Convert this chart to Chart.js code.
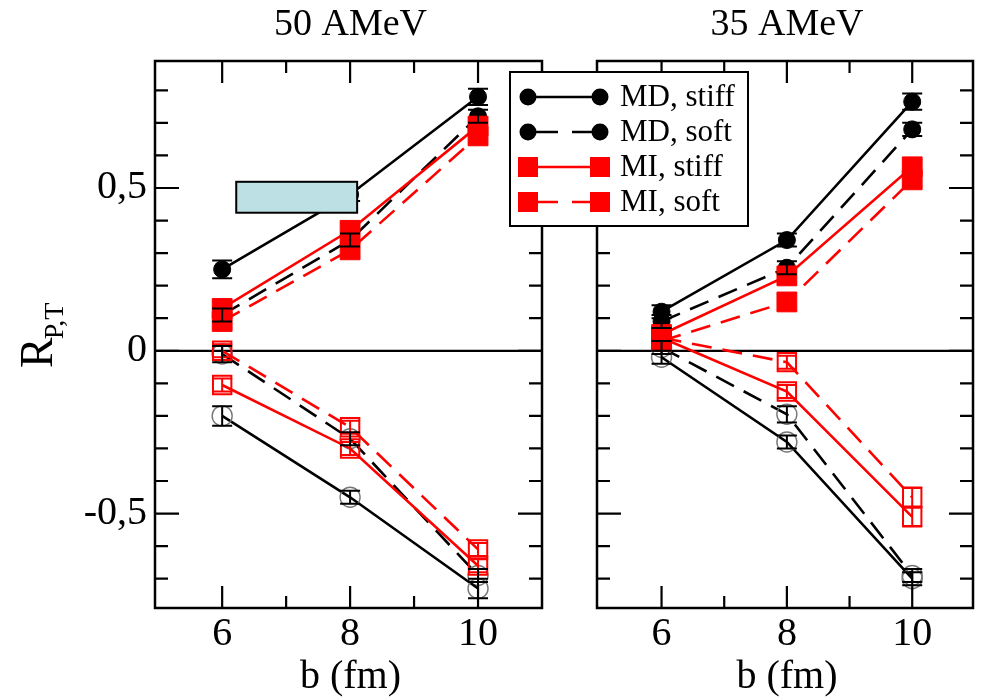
<!DOCTYPE html>
<html><head><meta charset="utf-8">
<script src="https://cdn.jsdelivr.net/npm/chart.js@4.4.0/dist/chart.umd.min.js"></script>
<style>
html,body{margin:0;padding:0;background:#fff;}
#wrap{position:relative;width:988px;height:700px;overflow:hidden;}
#c1{position:absolute;left:0;top:0;}
#c2{position:absolute;left:490px;top:0;}
</style></head><body>
<div id="wrap">
<canvas id="c1" width="570" height="700"></canvas>
<canvas id="c2" width="498" height="700"></canvas>
</div>
<script>
// ---------- data ----------
const B = [6, 8, 10];
const X_TICKS = [6, 8, 10];
const X_MINOR = [7, 9];
const Y_TICKS = [-0.5, 0, 0.5];
const Y_MINOR = [-0.7, -0.6, -0.4, -0.3, -0.2, -0.1, 0.1, 0.2, 0.3, 0.4, 0.6, 0.7, 0.8];
const TITLES = ['50 AMeV', '35 AMeV'];
const X_TITLE = 'b (fm)';
const LEGEND_LABELS = ['MD, stiff', 'MD, soft', 'MI, stiff', 'MI, soft'];

// 50 AMeV (left panel)
const L_MD_STIFF_POS = [0.25, 0.48, 0.78];
const L_MD_SOFT_POS  = [0.11, 0.34, 0.72];
const L_MI_STIFF_POS = [0.13, 0.37, 0.69];
const L_MI_SOFT_POS  = [0.09, 0.31, 0.66];
const L_MD_STIFF_NEG = [-0.20, -0.45, -0.73];
const L_MD_SOFT_NEG  = [-0.01, -0.27, -0.69];
const L_MI_STIFF_NEG = [-0.105, -0.30, -0.66];
const L_MI_SOFT_NEG  = [0.00, -0.235, -0.61];
const L_ERR_MD_STIFF_POS = [0.027, 0.02, 0.025];
const L_ERR_MD_SOFT_POS  = [0.02, 0.02, 0.02];
const L_ERR_MI_STIFF_POS = [0.02, 0.02, 0.025];
const L_ERR_MI_SOFT_POS  = [0.02, 0.02, 0.02];
const L_ERR_MD_STIFF_NEG = [0.03, 0.02, 0.03];
const L_ERR_MD_SOFT_NEG  = [0.025, 0.02, 0.02];
const L_ERR_MI_STIFF_NEG = [0.02, 0.02, 0.02];
const L_ERR_MI_SOFT_NEG  = [0.02, 0.02, 0.02];

// 35 AMeV (right panel)
const R_MD_STIFF_POS = [0.12, 0.34, 0.765];
const R_MD_SOFT_POS  = [0.09, 0.255, 0.68];
const R_MI_STIFF_POS = [0.05, 0.23, 0.565];
const R_MI_SOFT_POS  = [0.03, 0.15, 0.525];
const R_MD_STIFF_NEG = [-0.02, -0.28, -0.70];
const R_MD_SOFT_NEG  = [0.01, -0.195, -0.69];
const R_MI_STIFF_NEG = [0.04, -0.125, -0.51];
const R_MI_SOFT_NEG  = [0.04, -0.035, -0.45];
const R_ERR_MD_STIFF_POS = [0.02, 0.02, 0.025];
const R_ERR_MD_SOFT_POS  = [0.02, 0.02, 0.02];
const R_ERR_MI_STIFF_POS = [0.02, 0.02, 0.02];
const R_ERR_MI_SOFT_POS  = [0.02, 0.025, 0.02];
const R_ERR_MD_STIFF_NEG = [0.02, 0.02, 0.02];
const R_ERR_MD_SOFT_NEG  = [0.02, 0.025, 0.02];
const R_ERR_MI_STIFF_NEG = [0.02, 0.02, 0.03];
const R_ERR_MI_SOFT_NEG  = [0.02, 0.02, 0.03];

// annotation box on left panel, in data units [x0, x1, y0, y1]
const L_BOX = [6.22, 8.11, 0.424, 0.519];

// ---------- styles ----------
const FONT = "'Liberation Serif', 'Times New Roman', 'DejaVu Serif', serif";
const RED = '#ff0000', BLACK = '#000000';
const DASH = [20, 11];
const STY = {
  mdStiff: {color: BLACK, dash: [], model: 'MD'},
  mdSoft:  {color: BLACK, dash: DASH, model: 'MD'},
  miStiff: {color: RED, dash: [], model: 'MI'},
  miSoft:  {color: RED, dash: DASH, model: 'MI'}
};

function ds(vals, errs, key, filled) {
  const s = STY[key];
  const isMD = s.model === 'MD';
  return {
    data: B.map((b, i) => ({x: b, y: vals[i]})),
    err: errs,
    errColor: s.color,
    borderColor: s.color,
    borderWidth: 2.6,
    borderDash: s.dash,
    fill: false,
    tension: 0,
    pointStyle: isMD ? 'circle' : 'rect',
    pointRadius: filled ? (isMD ? 8.5 : 14) : (isMD ? 10 : 13),
    pointBorderWidth: filled ? 1 : (isMD ? 1.4 : 2),
    pointBorderColor: filled ? s.color : (isMD ? '#777777' : RED),
    pointBackgroundColor: filled ? s.color : 'rgba(0,0,0,0)'
  };
}

function panelDatasets(p) {
  return [
    ds(p.miStiffPos, p.eMiStiffPos, 'miStiff', true),
    ds(p.miSoftPos, p.eMiSoftPos, 'miSoft', true),
    ds(p.mdStiffPos, p.eMdStiffPos, 'mdStiff', true),
    ds(p.mdSoftPos, p.eMdSoftPos, 'mdSoft', true),
    ds(p.miStiffNeg, p.eMiStiffNeg, 'miStiff', false),
    ds(p.miSoftNeg, p.eMiSoftNeg, 'miSoft', false),
    ds(p.mdStiffNeg, p.eMdStiffNeg, 'mdStiff', false),
    ds(p.mdSoftNeg, p.eMdSoftNeg, 'mdSoft', false)
  ];
}

const LEFT = {
  mdStiffPos: L_MD_STIFF_POS, mdSoftPos: L_MD_SOFT_POS, miStiffPos: L_MI_STIFF_POS, miSoftPos: L_MI_SOFT_POS,
  mdStiffNeg: L_MD_STIFF_NEG, mdSoftNeg: L_MD_SOFT_NEG, miStiffNeg: L_MI_STIFF_NEG, miSoftNeg: L_MI_SOFT_NEG,
  eMdStiffPos: L_ERR_MD_STIFF_POS, eMdSoftPos: L_ERR_MD_SOFT_POS, eMiStiffPos: L_ERR_MI_STIFF_POS, eMiSoftPos: L_ERR_MI_SOFT_POS,
  eMdStiffNeg: L_ERR_MD_STIFF_NEG, eMdSoftNeg: L_ERR_MD_SOFT_NEG, eMiStiffNeg: L_ERR_MI_STIFF_NEG, eMiSoftNeg: L_ERR_MI_SOFT_NEG
};
const RIGHT = {
  mdStiffPos: R_MD_STIFF_POS, mdSoftPos: R_MD_SOFT_POS, miStiffPos: R_MI_STIFF_POS, miSoftPos: R_MI_SOFT_POS,
  mdStiffNeg: R_MD_STIFF_NEG, mdSoftNeg: R_MD_SOFT_NEG, miStiffNeg: R_MI_STIFF_NEG, miSoftNeg: R_MI_SOFT_NEG,
  eMdStiffPos: R_ERR_MD_STIFF_POS, eMdSoftPos: R_ERR_MD_SOFT_POS, eMiStiffPos: R_ERR_MI_STIFF_POS, eMiSoftPos: R_ERR_MI_SOFT_POS,
  eMdStiffNeg: R_ERR_MD_STIFF_NEG, eMdSoftNeg: R_ERR_MD_SOFT_NEG, eMiStiffNeg: R_ERR_MI_STIFF_NEG, eMiSoftNeg: R_ERR_MI_SOFT_NEG
};

// ---------- plugin ----------
function makePlugin(opt) {
  return {
    id: 'panel',
    beforeDatasetsDraw(chart) {
      const {ctx, chartArea: a, scales: {y}} = chart;
      const y0 = y.getPixelForValue(0);
      ctx.save();
      ctx.strokeStyle = '#000'; ctx.lineWidth = 2.2;
      ctx.beginPath(); ctx.moveTo(a.left, y0); ctx.lineTo(a.right, y0); ctx.stroke();
      ctx.restore();
    },
    afterDatasetsDraw(chart) {
      const {ctx, chartArea: a, scales: {x, y}} = chart;
      ctx.save();
      // error bars
      chart.data.datasets.forEach(d => {
        ctx.strokeStyle = d.errColor; ctx.lineWidth = 2;
        d.data.forEach((p, i) => {
          const px = x.getPixelForValue(p.x);
          const yt = y.getPixelForValue(p.y + d.err[i]);
          const yb = y.getPixelForValue(p.y - d.err[i]);
          ctx.beginPath();
          ctx.moveTo(px, yt); ctx.lineTo(px, yb);
          ctx.moveTo(px - 10, yt); ctx.lineTo(px + 10, yt);
          ctx.moveTo(px - 10, yb); ctx.lineTo(px + 10, yb);
          ctx.stroke();
        });
      });
      // annotation box
      if (opt.box) {
        const bx0 = x.getPixelForValue(opt.box[0]), bx1 = x.getPixelForValue(opt.box[1]);
        const by0 = y.getPixelForValue(opt.box[3]), by1 = y.getPixelForValue(opt.box[2]);
        ctx.fillStyle = '#bce0e3';
        ctx.fillRect(bx0, by0, bx1 - bx0, by1 - by0);
        ctx.strokeStyle = '#000'; ctx.lineWidth = 2;
        ctx.strokeRect(bx0, by0, bx1 - bx0, by1 - by0);
      }
      // frame + inward ticks
      ctx.strokeStyle = '#000'; ctx.lineWidth = 2.2;
      ctx.beginPath();
      const tick = (vals, len) => {
        vals.forEach(v => {
          const px = x.getPixelForValue(v);
          ctx.moveTo(px, a.bottom); ctx.lineTo(px, a.bottom - len);
          ctx.moveTo(px, a.top); ctx.lineTo(px, a.top + len);
        });
      };
      const ytick = (vals, len) => {
        vals.forEach(v => {
          const py = y.getPixelForValue(v);
          ctx.moveTo(a.left, py); ctx.lineTo(a.left + len, py);
          ctx.moveTo(a.right, py); ctx.lineTo(a.right - len, py);
        });
      };
      tick(X_TICKS, 22); tick(X_MINOR, 12);
      ytick(Y_TICKS, 24); ytick(Y_MINOR, 13);
      ctx.stroke();
      ctx.lineWidth = 2.5;
      ctx.strokeRect(a.left, a.top, a.right - a.left, a.bottom - a.top);
      ctx.restore();
    },
    afterDraw(chart) {
      const {ctx, chartArea: a} = chart;
      const cx = (a.left + a.right) / 2;
      ctx.save();
      ctx.fillStyle = '#000';
      ctx.textAlign = 'center'; ctx.textBaseline = 'middle';
      ctx.font = '38px ' + FONT;
      ctx.fillText(opt.title, cx + 2, 25);
      ctx.font = '40px ' + FONT;
      ctx.fillText(X_TITLE, cx + 2, 677);
      if (opt.ylabel) {
        ctx.save();
        ctx.translate(52, 368);
        ctx.rotate(-Math.PI / 2);
        ctx.textAlign = 'left'; ctx.textBaseline = 'alphabetic';
        ctx.font = '46px ' + FONT;
        ctx.fillText('R', 0, 0);
        const w = ctx.measureText('R').width;
        ctx.font = '28px ' + FONT;
        ctx.fillText('P,T', w - 2, 11);
        ctx.restore();
      }
      if (opt.legend) {
        const x0 = a.left - 87, y0 = a.top + 11, w = 238, h = 154;
        ctx.fillStyle = '#fff';
        ctx.fillRect(x0, y0, w, h);
        ctx.strokeStyle = '#000'; ctx.lineWidth = 2;
        ctx.strokeRect(x0, y0, w, h);
        const keys = ['mdStiff', 'mdSoft', 'miStiff', 'miSoft'];
        keys.forEach((k, i) => {
          const s = STY[k];
          const ly = y0 + 25 + i * 35;
          const xa = x0 + 18, xb = x0 + 90;
          ctx.strokeStyle = s.color; ctx.fillStyle = s.color;
          ctx.lineWidth = 2.6;
          ctx.setLineDash(s.dash.length ? [30, 14] : []);
          ctx.beginPath(); ctx.moveTo(xa, ly); ctx.lineTo(xb, ly); ctx.stroke();
          ctx.setLineDash([]);
          [xa, xb].forEach(mx => {
            if (s.model === 'MD') {
              ctx.beginPath(); ctx.arc(mx, ly, 8.5, 0, Math.PI * 2); ctx.fill();
            } else {
              ctx.fillRect(mx - 10, ly - 10, 20, 20);
            }
          });
          ctx.fillStyle = '#000';
          ctx.font = '31px ' + FONT;
          ctx.textAlign = 'left'; ctx.textBaseline = 'middle';
          ctx.fillText(LEGEND_LABELS[i], x0 + 110, ly + 1);
        });
      }
      ctx.restore();
    }
  };
}

function makeChart(id, panel, opt) {
  return new Chart(document.getElementById(id), {
    type: 'line',
    data: {datasets: panelDatasets(panel)},
    options: {
      responsive: false,
      animation: false,
      layout: {padding: {top: 61, right: opt.padRight, left: 0, bottom: 0}},
      plugins: {legend: {display: false}, tooltip: {enabled: false}},
      scales: {
        x: {
          type: 'linear', min: opt.xmin, max: opt.xmax,
          afterBuildTicks: s => { s.ticks = X_TICKS.map(v => ({value: v})); },
          afterFit: s => { s.height = 92; },
          grid: {display: false, drawTicks: false},
          border: {display: false},
          ticks: {autoSkip: false, maxRotation: 0, padding: 2, color: '#000',
                  font: {family: FONT, size: 40}}
        },
        y: {
          type: 'linear', min: -0.79, max: 0.89,
          afterBuildTicks: s => { s.ticks = Y_TICKS.map(v => ({value: v})); },
          afterFit: s => { s.width = opt.yWidth; },
          grid: {display: false, drawTicks: false},
          border: {display: false},
          ticks: {display: opt.yLabels, autoSkip: false, padding: 8, color: '#000',
                  font: {family: FONT, size: 40},
                  callback: v => String(v).replace('.', ',')}
        }
      }
    },
    plugins: [makePlugin(opt)]
  });
}

makeChart('c1', LEFT, {xmin: 4.95, xmax: 11.0, padRight: 28, yWidth: 155, yLabels: true,
  title: TITLES[0], ylabel: true, box: L_BOX});
makeChart('c2', RIGHT, {xmin: 4.97, xmax: 10.97, padRight: 8, yWidth: 107, yLabels: false,
  title: TITLES[1], legend: true});
</script>
</body></html>
